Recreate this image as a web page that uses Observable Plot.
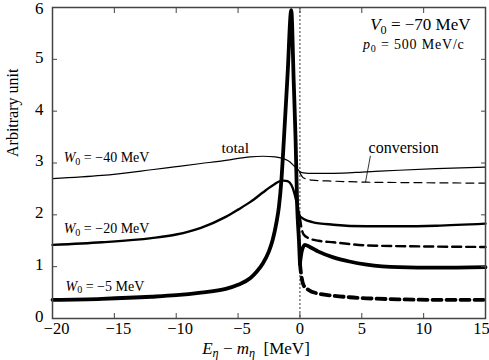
<!DOCTYPE html>
<html><head><meta charset="utf-8">
<script src="https://cdn.jsdelivr.net/npm/d3@7"></script>
<script src="https://cdn.jsdelivr.net/npm/@observablehq/plot@0.6"></script>
<style>body{margin:0;background:#fff} svg{display:block} text{white-space:pre}</style>
</head><body><div id="chart"></div>
<script>
// ---- data ----
const xTicks = [-20, -15, -10, -5, 0, 5, 10, 15];
const yTicks = [0, 1, 2, 3, 4, 5, 6];

// W0 = -40 MeV
const xBelow40 = [-20, -16, -12, -10, -8, -6, -4, -3, -2, -1.3, -0.8, -0.5, -0.2, 0];
const totBelow40 = [2.70, 2.76, 2.87, 2.93, 2.99, 3.05, 3.12, 3.13, 3.12, 3.08, 3.02, 2.95, 2.88, 2.83];
const xAbove40 = [0, 0.3, 1, 2.7, 5.4, 8, 11, 15];
const totAbove40 = [2.83, 2.81, 2.80, 2.80, 2.83, 2.86, 2.89, 2.92];
const xConv40 = [0, 0.3, 1, 2.7, 5.4, 10, 15];
const conv40 = [2.81, 2.71, 2.67, 2.65, 2.63, 2.62, 2.61];

// W0 = -20 MeV
const xBelow20 = [-20, -16, -12, -10, -8, -6, -5, -4, -3, -2.5, -2, -1.6, -1.3, -1.0, -0.7, -0.45, -0.25, -0.1, 0];
const totBelow20 = [1.42, 1.47, 1.55, 1.62, 1.75, 1.96, 2.10, 2.25, 2.43, 2.52, 2.60, 2.65, 2.66, 2.65, 2.58, 2.42, 2.22, 2.05, 1.97];
const xAbove20 = [0, 0.3, 1, 2.7, 5.4, 8, 11, 15];
const totAbove20 = [1.97, 1.92, 1.86, 1.81, 1.78, 1.78, 1.79, 1.83];
const xConv20 = [0, 0.1, 0.3, 0.7, 1.5, 2.7, 5.4, 10, 15];
const conv20 = [1.95, 1.78, 1.62, 1.55, 1.50, 1.47, 1.41, 1.39, 1.38];

// W0 = -5 MeV
const xBelow5 = [-20, -16, -12, -10, -8, -6, -5, -4, -3.5, -3, -2.5, -2.2, -1.9, -1.7, -1.5, -1.3, -1.0, -0.7, -0.5, -0.35, -0.22, -0.08, 0];
const totBelow5 = [0.36, 0.38, 0.42, 0.45, 0.50, 0.57, 0.65, 0.78, 0.90, 1.06, 1.30, 1.52, 1.85, 2.15, 2.66, 3.44, 4.70, 5.95, 4.55, 3.45, 2.15, 1.51, 1.06];
const xAbove5 = [0, 0.15, 0.4, 0.8, 1.5, 2.7, 4, 5.4, 8, 11, 15];
const totAbove5 = [1.06, 1.30, 1.42, 1.38, 1.29, 1.18, 1.10, 1.04, 0.99, 0.98, 0.99];
const xConv5 = [0, 0.1, 0.3, 0.7, 1.5, 2.7, 4, 5.4, 8, 11, 15];
const conv5 = [1.06, 0.85, 0.64, 0.55, 0.48, 0.44, 0.41, 0.39, 0.37, 0.36, 0.36];

// labels (rich text segments: "i" italic, "s" subscript)
const w0Label40 = [["W", "i"], ["0", "s"], [" = −40 MeV", ""]];
const w0Label20 = [["W", "i"], ["0", "s"], [" = −20 MeV", ""]];
const w0Label5 = [["W", "i"], ["0", "s"], [" = −5 MeV", ""]];
const v0Label = [["V", "i"], ["0", "s"], [" = −70 MeV", ""]];
const p0Label = [["p", "i"], ["0", "s"], [" = 500 MeV/c", ""]];
const xLabel = [["E", "i"], ["η", "si"], [" − ", ""], ["m", "i"], ["η", "si"], ["  [MeV]", ""]];
const yLabel = "Arbitrary unit";
const totalLabel = "total";
const convLabel = "conversion";

// annotation anchors in data units
const w0LabelPos = [[-19.1, 3.01], [-19.1, 1.64], [-18.95, 0.54]];
const totalPos = [-6.34, 3.20];
const convPos = [5.55, 3.19];
const v0Pos = [13.79, 5.56];
const p0Pos = [13.31, 5.19];
const leader = {x1: 5.7, y1: 3.14, x2: 5.3, y2: 2.63};

// ---- build ----
const plain = segs => segs.map(s => s[0]).join("");
const rows = (xs, ys, key) => xs.map((x, i) => ({x, y: ys[i], key}));

const series = [
  {below: rows(xBelow40, totBelow40, "b"), above: rows(xAbove40, totAbove40, "a"), conv: rows(xConv40, conv40, "c"), sw: 1.2, dash: "8,5"},
  {below: rows(xBelow20, totBelow20, "b"), above: rows(xAbove20, totAbove20, "a"), conv: rows(xConv20, conv20, "c"), sw: 2.4, dash: "9,5"},
  {below: rows(xBelow5, totBelow5, "b"), above: rows(xAbove5, totAbove5, "a"), conv: rows(xConv5, conv5, "c"), sw: 3.8, dash: "9,5"}
];

const w0Labels = [w0Label40, w0Label20, w0Label5].map((s, i) => ({text: plain(s), x: w0LabelPos[i][0], y: w0LabelPos[i][1]}));
const fmt = d => d < 0 ? "−" + (-d) : String(d);
const lastX = xTicks[xTicks.length - 1];

const plot = Plot.plot({
  width: 489, height: 360,
  marginLeft: 52, marginRight: 4, marginTop: 7, marginBottom: 42,
  style: {fontFamily: "'Liberation Serif', 'Times New Roman', serif", fontSize: "16px", color: "#000", background: "#fff"},
  x: {domain: [-20, 15]},
  y: {domain: [0, 6]},
  marks: [
    Plot.ruleX([0], {stroke: "#000", strokeWidth: 0.8, strokeDasharray: "2,2"}),
    ...series.flatMap(s => [
      Plot.line([...s.below, ...s.above], {x: "x", y: "y", z: "key", stroke: "#000", strokeWidth: s.sw, curve: "monotone-x", strokeLinejoin: "round"}),
      Plot.line(s.conv, {x: "x", y: "y", stroke: "#000", strokeWidth: s.sw, strokeDasharray: s.dash, curve: "monotone-x"})
    ]),
    Plot.link([leader], {x1: "x1", y1: "y1", x2: "x2", y2: "y2", stroke: "#000", strokeWidth: 0.8}),
    Plot.text(w0Labels, {x: "x", y: "y", text: "text", textAnchor: "start", lineAnchor: "bottom", fontSize: 14}),
    Plot.text([totalLabel], {x: totalPos[0], y: totalPos[1], text: d => d, textAnchor: "start", lineAnchor: "bottom", fontSize: 15.5}),
    Plot.text([convLabel], {x: convPos[0], y: convPos[1], text: d => d, textAnchor: "start", lineAnchor: "bottom", fontSize: 16}),
    Plot.text([plain(v0Label)], {x: v0Pos[0], y: v0Pos[1], text: d => d, textAnchor: "end", lineAnchor: "bottom", fontSize: 17}),
    Plot.text([plain(p0Label)], {x: p0Pos[0], y: p0Pos[1], text: d => d, textAnchor: "end", lineAnchor: "bottom", fontSize: 14}),
    Plot.text([plain(xLabel)], {frameAnchor: "bottom", text: d => d, dy: 35, dx: -13, lineAnchor: "bottom", fontSize: 17}),
    Plot.text([yLabel], {frameAnchor: "left", text: d => d, rotate: -90, dx: -40, dy: -6, fontSize: 16}),
    // tick marks (inward, all four sides)
    Plot.axisX(xTicks, {tickSize: -5, stroke: "#444", tickFormat: () => "", label: null}),
    Plot.axisX(xTicks, {anchor: "top", tickSize: -5, stroke: "#444", tickFormat: () => "", label: null}),
    Plot.axisY(yTicks, {tickSize: -5, stroke: "#444", tickFormat: () => "", label: null}),
    Plot.axisY(yTicks, {anchor: "right", tickSize: -5, stroke: "#444", tickFormat: () => "", label: null}),
    // tick labels
    Plot.axisX(xTicks.filter(d => d < 0), {tickSize: 0, tickPadding: 4, dx: 4, fontSize: 16.5, tickFormat: fmt, label: null}),
    Plot.axisX(xTicks.filter(d => d >= 0 && d !== lastX), {tickSize: 0, tickPadding: 4, fontSize: 16.5, tickFormat: fmt, label: null}),
    Plot.axisX([lastX], {tickSize: 0, tickPadding: 4, dx: -4, fontSize: 16.5, tickFormat: fmt, label: null}),
    Plot.axisY(yTicks.filter(d => d < 6), {tickSize: 0, tickPadding: 9, dy: -2, fontSize: 17, tickFormat: fmt, label: null}),
    Plot.axisY(yTicks.filter(d => d === 6), {tickSize: 0, tickPadding: 9, dy: 1, fontSize: 17, tickFormat: fmt, label: null}),
    Plot.frame({stroke: "#444", strokeWidth: 1.5})
  ]
});
document.getElementById("chart").appendChild(plot);

// rich text: italics and subscripts as tspans
const richMap = new Map([w0Label40, w0Label20, w0Label5, v0Label, p0Label, xLabel].map(s => [plain(s), s]));
plot.querySelectorAll("text").forEach(t => {
  const segs = richMap.get(t.textContent);
  if (!segs) return;
  const fs = parseFloat(getComputedStyle(t).fontSize) || 16;
  if (segs === p0Label) t.setAttribute("letter-spacing", "0.8");
  t.textContent = "";
  let shifted = false;
  for (const [str, st] of segs) {
    const ts = document.createElementNS("http://www.w3.org/2000/svg", "tspan");
    ts.textContent = str;
    if (st.includes("i")) ts.setAttribute("font-style", "italic");
    if (st.includes("s")) {
      ts.setAttribute("font-size", (0.72 * fs).toFixed(1));
      if (!shifted) { ts.setAttribute("dy", (0.2 * fs).toFixed(1)); shifted = true; }
    } else if (shifted) {
      ts.setAttribute("dy", (-0.2 * fs).toFixed(1)); shifted = false;
    }
    t.appendChild(ts);
  }
});
</script>
</body></html>
